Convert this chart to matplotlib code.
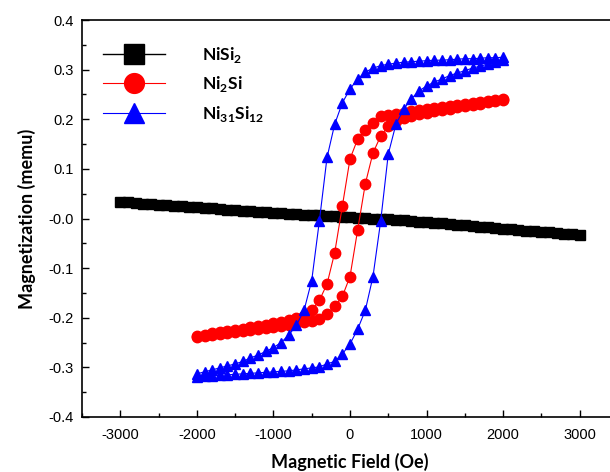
import numpy as np
import matplotlib
matplotlib.use("Agg")
import matplotlib.pyplot as plt

plt.rcParams['font.family'] = ['Liberation Sans', 'DejaVu Sans']
plt.rcParams['axes.unicode_minus'] = False
plt.rcParams['mathtext.fontset'] = 'custom'
plt.rcParams['mathtext.rm'] = 'Lato'
plt.rcParams['mathtext.bf'] = 'Lato:bold'

# NiSi2 : straight sweep -3000 .. 3000 Oe
h_nisi2 = list(range(-3000, 3001, 100))
m_nisi2 = [0.0335, 0.0324, 0.0313, 0.0302, 0.0291, 0.0280, 0.0269, 0.0258, 0.0247, 0.0236,
           0.0225, 0.0214, 0.0203, 0.0192, 0.0181, 0.0170, 0.0159, 0.0148, 0.0137, 0.0126,
           0.0115, 0.0105, 0.0096, 0.0088, 0.0080, 0.0073, 0.0066, 0.0058, 0.0049, 0.0040,
           0.0030, 0.0020, 0.0010, 0.0000, -0.0010, -0.0020, -0.0030, -0.0040, -0.0051, -0.0062,
           -0.0073, -0.0086, -0.0099, -0.0112, -0.0125, -0.0138, -0.0151, -0.0164, -0.0177, -0.0190,
           -0.0203, -0.0216, -0.0229, -0.0242, -0.0255, -0.0268, -0.0281, -0.0294, -0.0307, -0.0320,
           -0.0333]

# loops: field down 2000 -> -2000, then up -2000 -> 2000
h_down = list(range(2000, -2001, -100))
h_up = list(range(-2000, 2001, 100))

m_ni2si_down = [0.240, 0.238, 0.236, 0.234, 0.232, 0.230, 0.228, 0.226, 0.224, 0.222,
                0.220, 0.218, 0.216, 0.213, 0.211, 0.209, 0.207, 0.193, 0.179, 0.160,
                0.120, 0.025, -0.069, -0.132, -0.165, -0.185, -0.196, -0.201, -0.205, -0.208,
                -0.211, -0.214, -0.217, -0.219, -0.222, -0.224, -0.226, -0.229, -0.231, -0.234,
                -0.236]
m_ni2si_up = [-0.238, -0.236, -0.234, -0.232, -0.230, -0.228, -0.226, -0.224, -0.222, -0.220,
              -0.218, -0.216, -0.214, -0.211, -0.209, -0.206, -0.203, -0.192, -0.177, -0.157,
              -0.117, -0.023, 0.070, 0.132, 0.166, 0.186, 0.197, 0.203, 0.207, 0.210,
              0.213, 0.216, 0.219, 0.221, 0.224, 0.226, 0.229, 0.231, 0.234, 0.236,
              0.238]

m_ni31_down = [0.325, 0.324, 0.324, 0.323, 0.322, 0.322, 0.321, 0.320, 0.319, 0.319,
               0.318, 0.317, 0.316, 0.315, 0.313, 0.311, 0.308, 0.303, 0.295, 0.281,
               0.261, 0.233, 0.190, 0.123, -0.005, -0.125, -0.185, -0.215, -0.235, -0.250,
               -0.260, -0.268, -0.275, -0.281, -0.288, -0.293, -0.297, -0.301, -0.305, -0.309,
               -0.313]
m_ni31_up = [-0.320, -0.318, -0.317, -0.316, -0.315, -0.314, -0.313, -0.312, -0.311, -0.310,
             -0.309, -0.308, -0.307, -0.305, -0.303, -0.301, -0.299, -0.293, -0.288, -0.273,
             -0.253, -0.223, -0.185, -0.117, -0.006, 0.130, 0.190, 0.220, 0.241, 0.257,
             0.267, 0.275, 0.281, 0.288, 0.293, 0.298, 0.303, 0.307, 0.311, 0.315,
             0.320]

labels = [r'NiSi$_\mathbf{2}$', r'Ni$_\mathbf{2}$Si', r'Ni$_\mathbf{31}$Si$_\mathbf{12}$']

fig = plt.figure(figsize=(6.1, 4.72), dpi=100)
ax = fig.add_axes([82/610, 55/472, 536/610, 397/472])

ax.plot(h_nisi2, m_nisi2, 's-', color='black', ms=7.6, lw=1, label=labels[0])
ax.plot(h_down + h_up, m_ni2si_down + m_ni2si_up, 'o-', color='red', mec='red',
        ms=7.5, lw=0.8, label=labels[1])
ax.plot(h_down + h_up, m_ni31_down + m_ni31_up, '^-', color='blue', mec='blue',
        ms=7.5, lw=0.8, label=labels[2])

ax.set_xlim(-3500, 3500)
ax.set_ylim(-0.4, 0.4)
ax.set_xticks(range(-3000, 3001, 1000))
ax.set_xticks(range(-3500, 3501, 500), minor=True)
ax.set_yticks(np.arange(-0.4, 0.41, 0.1))
ax.set_yticks(np.arange(-0.35, 0.36, 0.1), minor=True)
ax.yaxis.set_major_formatter(matplotlib.ticker.FormatStrFormatter('%.1f'))
ax.tick_params(which='both', direction='in', labelsize=10.5, width=1)
ax.tick_params(which='major', length=5)
ax.tick_params(which='minor', length=3)
ax.tick_params(axis='x', pad=8)
ax.tick_params(axis='y', pad=6)
for s in ax.spines.values():
    s.set_linewidth(1.2)

ax.set_xlabel('Magnetic Field (Oe)', fontsize=13, fontweight='bold', family='Lato', labelpad=8)
ax.set_ylabel('Magnetization (memu)', fontsize=13, fontweight='bold', family='Lato', labelpad=9)

leg = ax.legend(loc='upper left', bbox_to_anchor=(0.01, 0.977), frameon=False, markerscale=1.9,
                handlelength=3.6, handletextpad=2.1, labelspacing=0.55,
                prop={'family': 'Lato', 'weight': 'bold', 'size': 12.5})

fig.savefig('out.png', dpi=100)
